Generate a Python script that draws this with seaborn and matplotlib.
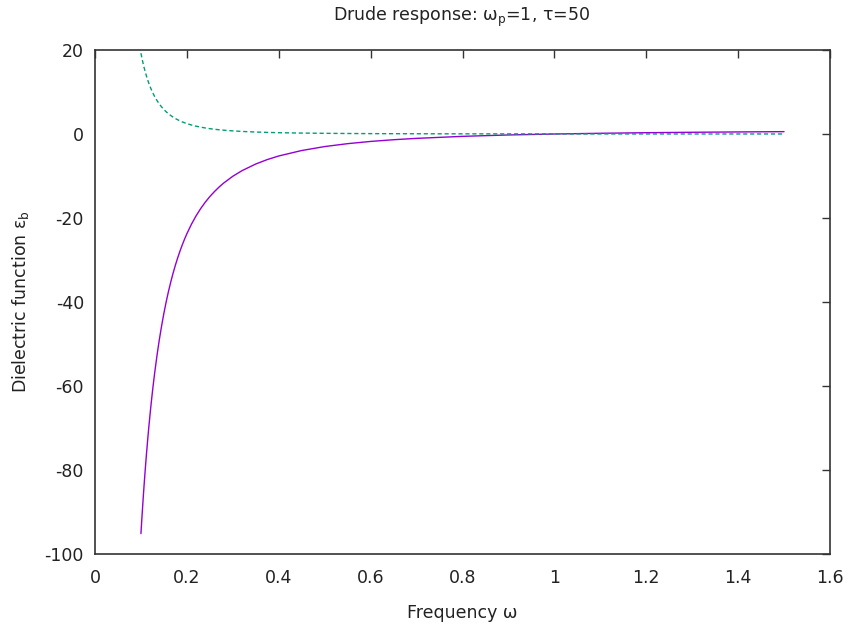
import matplotlib
matplotlib.use("Agg")
import matplotlib.pyplot as plt
import seaborn as sns
import pandas as pd

# Frequency samples (omega)
omega = [0.100, 0.102, 0.105, 0.107, 0.110, 0.112, 0.115, 0.117, 0.120, 0.122,
         0.125, 0.127, 0.130, 0.135, 0.140, 0.145, 0.150, 0.155, 0.160, 0.165,
         0.170, 0.175, 0.180, 0.185, 0.190, 0.195, 0.200, 0.210, 0.220, 0.230,
         0.240, 0.250, 0.260, 0.270, 0.280, 0.300, 0.320, 0.350, 0.375, 0.400,
         0.450, 0.500, 0.550, 0.600, 0.650, 0.700, 0.800, 0.900, 1.000, 1.100,
         1.200, 1.300, 1.400, 1.500]
# Real part of dielectric function (solid purple)
eps_real = [-95.15, -91.56, -86.53, -83.40, -79.00, -76.26, -72.40, -69.98, -66.57, -64.43,
            -61.40, -59.50, -56.80, -52.69, -49.00, -45.68, -42.67, -39.94, -37.46, -35.20,
            -33.13, -31.23, -29.49, -27.88, -26.40, -25.02, -23.75, -21.47, -19.49, -17.76,
            -16.24, -14.90, -13.71, -12.64, -11.69, -10.06, -8.73, -7.14, -6.09, -5.23,
            -3.93, -2.99, -2.30, -1.77, -1.36, -1.04, -0.56, -0.23, 0.00, 0.17,
            0.31, 0.41, 0.49, 0.56]
# Imaginary part (dashed green)
eps_imag = [19.23, 18.15, 16.67, 15.77, 14.55, 13.80, 12.77, 12.13, 11.26, 10.73,
            9.98, 9.53, 8.89, 7.95, 7.14, 6.44, 5.82, 5.28, 4.81, 4.39,
            4.02, 3.68, 3.39, 3.12, 2.88, 2.67, 2.48, 2.14, 1.86, 1.63,
            1.44, 1.27, 1.13, 1.01, 0.91, 0.74, 0.61, 0.47, 0.38, 0.31,
            0.22, 0.16, 0.12, 0.09, 0.07, 0.06, 0.04, 0.03, 0.02, 0.015,
            0.012, 0.009, 0.007, 0.006]

xticks = [0, 0.2, 0.4, 0.6, 0.8, 1, 1.2, 1.4, 1.6]
xticklabels = ["0", "0.2", "0.4", "0.6", "0.8", "1", "1.2", "1.4", "1.6"]
yticks = [-100, -80, -60, -40, -20, 0, 20]
yticklabels = ["-100", "-80", "-60", "-40", "-20", "0", "20"]

sns.set_theme(style="white")
plt.rcParams['font.family'] = ['DejaVu Sans']
plt.rcParams['axes.unicode_minus'] = False
plt.rcParams['mathtext.fontset'] = 'dejavusans'

df = pd.DataFrame({"omega": omega, "real": eps_real, "imag": eps_imag})

fig = plt.figure(figsize=(8.54, 6.30), dpi=100)
ax = fig.add_axes([95/854, 1-554/630, (830-95)/854, (554-50)/630])

sns.lineplot(data=df, x="omega", y="real", ax=ax, color="#9400d3", linewidth=1.0, sort=False)
sns.lineplot(data=df, x="omega", y="imag", ax=ax, color="#009e73", linewidth=1.0,
             linestyle=(0, (3, 2)), sort=False)

ax.set_xlim(0, 1.6)
ax.set_ylim(-100, 20)
ax.set_xticks(xticks)
ax.set_xticklabels(xticklabels)
ax.set_yticks(yticks)
ax.set_yticklabels(yticklabels)
ax.tick_params(direction="in", length=6, width=1, top=True, right=True,
               labelsize=12.5, colors="#333333", labelcolor="#222222")
ax.tick_params(axis="x", pad=11)
ax.tick_params(axis="y", pad=8)
for s in ax.spines.values():
    s.set_color("#333333")
    s.set_linewidth(1.2)

ax.set_xlabel("Frequency ω", fontsize=12.5, labelpad=12, color="#222222")
ax.set_ylabel(r"Dielectric function $\mathregular{ε_b}$", fontsize=12.5, labelpad=10,
              color="#222222")
fig.text(462/854, 1-17/630, r"Drude response: $\mathregular{ω_p}$=1, τ=50",
         ha="center", va="center", fontsize=12.5, color="#222222")

fig.savefig("out.png", dpi=100)
